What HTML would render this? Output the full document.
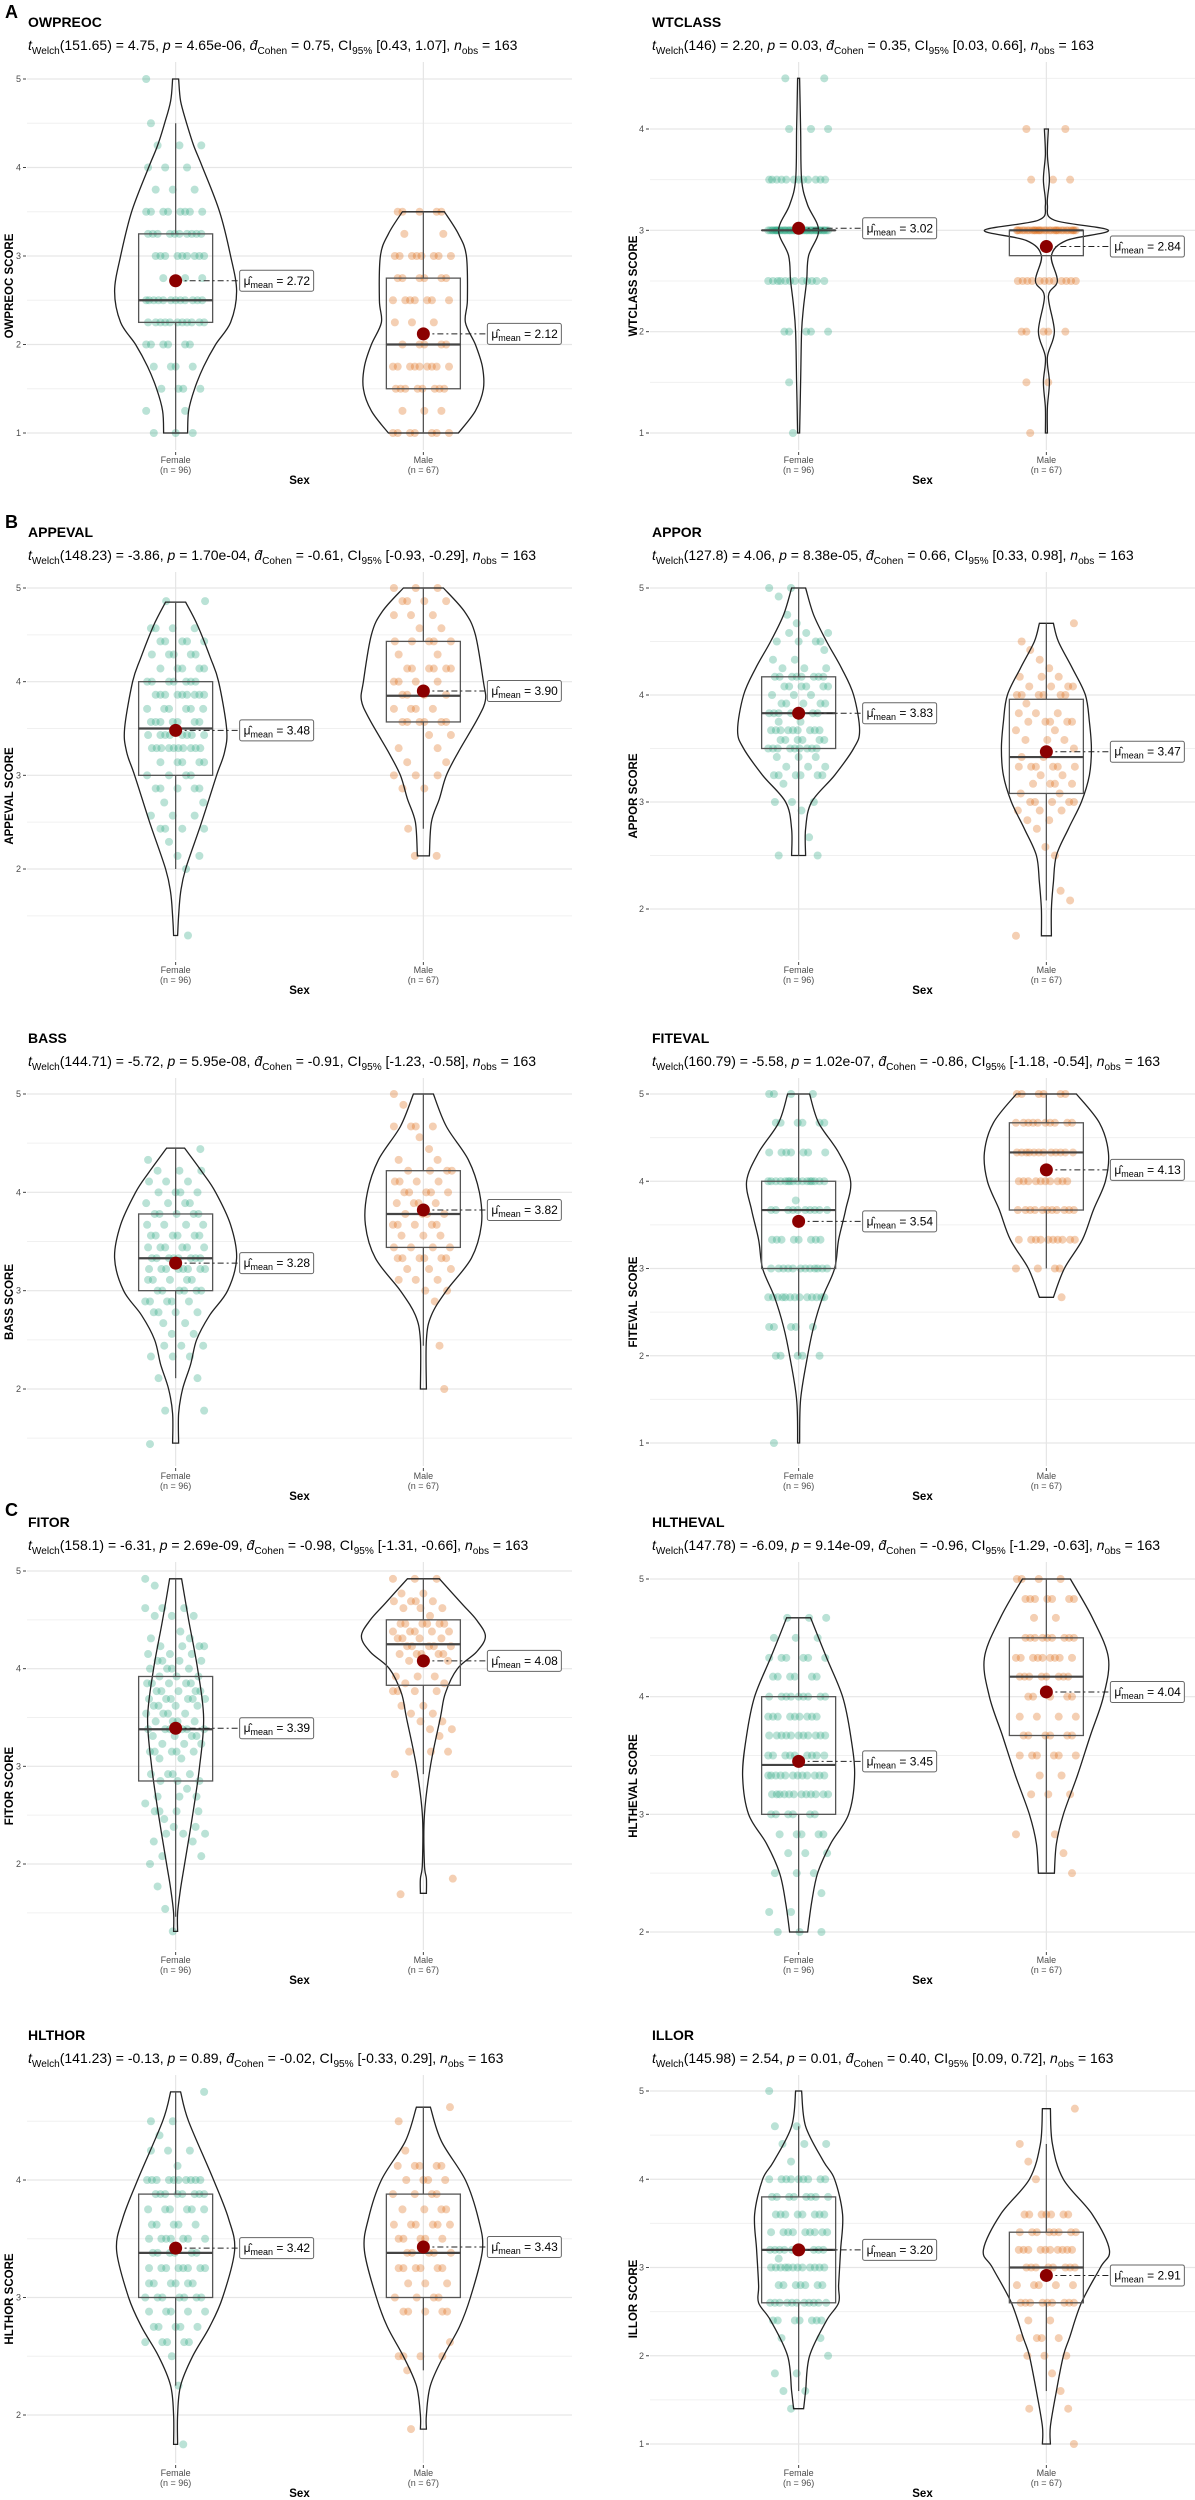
<!DOCTYPE html>
<html><head><meta charset="utf-8"><title>Sex differences violin plots</title>
<style>
html,body{margin:0;padding:0;background:#fff;}
svg{display:block;font-family:"Liberation Sans",Arial,sans-serif;}
</style></head>
<body>
<svg id="fig" width="1195" height="2500" viewBox="0 0 1195 2500" xmlns="http://www.w3.org/2000/svg">
<rect x="0" y="0" width="1195" height="2500" fill="#fff"/>
<text x="5" y="18" font-size="18" font-weight="bold">A</text>
<text x="5" y="528" font-size="18" font-weight="bold">B</text>
<text x="5" y="1516" font-size="18" font-weight="bold">C</text>
</svg>
<script>
// ---- data: chart titles & stats ----
const titles = ["OWPREOC","WTCLASS","APPEVAL","APPOR","BASS","FITEVAL","FITOR","HLTHEVAL","HLTHOR","ILLOR"];
const dfs = ["151.65","146","148.23","127.8","144.71","160.79","158.1","147.78","141.23","145.98"];
const tvals = ["4.75","2.20","-3.86","4.06","-5.72","-5.58","-6.31","-6.09","-0.13","2.54"];
const pvals = ["4.65e-06","0.03","1.70e-04","8.38e-05","5.95e-08","1.02e-07","2.69e-09","9.14e-09","0.89","0.01"];
const dvals = ["0.75","0.35","-0.61","0.66","-0.91","-0.86","-0.98","-0.96","-0.02","0.40"];
const ciLo = ["0.43","0.03","-0.93","0.33","-1.23","-1.18","-1.31","-1.29","-0.33","0.09"];
const ciHi = ["1.07","0.66","-0.29","0.98","-0.58","-0.54","-0.66","-0.63","0.29","0.72"];
const categories = ["Female","Male"];
const groupN = [96,67];
// ---- data: group means ----
const femaleMeans = [2.72,3.02,3.48,3.83,3.28,3.54,3.39,3.45,3.42,3.20];
const maleMeans = [2.12,2.84,3.90,3.47,3.82,4.13,4.08,4.04,3.43,2.91];
// ---- data: box stats [whiskerLo, q1, median, q3, whiskerHi] ----
const femaleBox = [[1,2.25,2.5,3.25,4.5],[3,3,3,3,3],[2,3,3.5,4,4.85],[2.5,3.5,3.83,4.17,5],[2.11,3,3.33,3.78,4.45],[2,3,3.67,4,5],[1.46,2.85,3.38,3.92,4.92],[2,3,3.42,4,4.67],[2.25,3,3.38,3.88,4.75],[1.6,2.6,3.2,3.8,4.6]];
const maleBox = [[1,1.5,2,2.75,3.5],[2.75,2.75,3,3,3],[2.43,3.57,3.85,4.43,5],[2.08,3.08,3.42,3.96,4.67],[2.44,3.44,3.78,4.22,5],[3,3.67,4.33,4.67,5],[2.92,3.83,4.25,4.5,4.92],[2.5,3.67,4.17,4.5,5],[2.38,3,3.38,3.88,4.62],[1.6,2.6,3,3.4,4.4]];
// ---- data: violin density profiles [value, density] ----
const femaleViolin = [
 [[5,3],[4.75,5],[4.5,11],[4.25,18],[4,27],[3.5,44],[3,55],[2.6,61],[2.25,55],[2,40],[1.75,28],[1.5,19],[1.25,13],[1,12]],
 [[4.5,1],[4,2],[3.5,3],[3.25,9],[3,20],[2.75,10],[2.5,8],[2.25,5],[2,3],[1.5,2],[1,1]],
 [[4.85,10],[4.6,22],[4.25,35],[4,43],[3.5,51],[3.25,49],[3,41],[2.5,26],[2,10],[1.75,5],[1.5,3],[1.29,2]],
 [[5,7],[4.75,15],[4.5,28],[4.25,43],[4,55],[3.67,61],[3.5,55],[3.25,36],[3,13],[2.75,7],[2.5,7]],
 [[4.45,9],[4.2,27],[4,40],[3.67,55],[3.33,61],[3,52],[2.75,34],[2.5,21],[2.25,15],[2,7],[1.75,3],[1.45,3]],
 [[5,11],[4.67,20],[4.33,40],[4,52],[3.67,47],[3.33,40],[3,36],[2.67,24],[2.33,15],[2,9],[1.5,2],[1,1]],
 [[4.92,6],[4.5,13],[4,22],[3.5,28],[3,24],[2.5,17],[2,9],[1.75,5],[1.5,2],[1.31,2]],
 [[4.67,12],[4.33,28],[4,44],[3.67,52],[3.33,56],[3,50],[2.75,32],[2.5,19],[2.25,13],[2,9]],
 [[4.75,5],[4.5,13],[4,38],[3.67,53],[3.4,59],[3,47],[2.75,34],[2.5,17],[2.25,5],[2,2],[1.75,2]],
 [[5,3],[4.6,7],[4.2,25],[4,36],[3.6,44],[3.2,42],[2.8,40],[2.6,40],[2.4,28],[2,11],[1.6,7],[1.4,5]]
];
const maleViolin = [
 [[3.5,21],[3.25,35],[3,43],[2.5,44],[2.25,42],[2,52],[1.75,59],[1.5,60],[1.25,52],[1,35]],
 [[4,2],[3.75,1],[3.5,3],[3.25,1],[3.1,8],[3,62],[2.9,20],[2.75,5],[2.5,11],[2.35,2],[2,8],[1.75,1],[1.5,3],[1.25,1],[1,1]],
 [[5,20],[4.75,41],[4.5,52],[4,60],[3.8,62],[3.6,54],[3.25,35],[3,23],[2.75,16],[2.5,8],[2.14,6]],
 [[4.67,7],[4.5,12],[4.25,26],[4,39],[3.75,43],[3.5,45],[3.25,43],[3,35],[2.75,22],[2.5,10],[2.25,7],[2,5],[1.75,5]],
 [[5,10],[4.67,23],[4.33,45],[4,56],[3.67,58],[3.33,48],[3,23],[2.75,8],[2.5,3],[2,3]],
 [[5,30],[4.67,53],[4.33,62],[4,59],[3.67,47],[3.33,36],[3,18],[2.67,7]],
 [[4.92,16],[4.67,38],[4.5,53],[4.33,62],[4.17,53],[4,34],[3.75,22],[3.5,17],[3,7],[2.5,1],[2,1],[1.85,3],[1.7,3]],
 [[5,24],[4.67,46],[4.33,62],[4,57],[3.67,44],[3.33,31],[3,17],[2.75,10],[2.5,8]],
 [[4.62,7],[4.33,18],[4,42],[3.67,55],[3.4,59],[3,47],[2.75,36],[2.5,20],[2.25,7],[2,3],[1.88,3]],
 [[4.8,4],[4.4,6],[4,17],[3.6,46],[3.2,63],[3,54],[2.6,35],[2.2,23],[2,17],[1.6,10],[1.2,4],[1,4]]
];
// ---- data: observations as [value, count] ----
const femalePoints = [
 [[5,1],[4.5,1],[4.25,3],[4,3],[3.75,3],[3.5,8],[3.25,10],[3,9],[2.75,3],[2.5,12],[2.25,11],[2,6],[1.75,4],[1.5,4],[1.25,2],[1,3]],
 [[4.5,2],[4,3],[3.5,12],[3,40],[2.5,12],[2,5],[1.5,1],[1,1]],
 [[4.86,2],[4.57,4],[4.43,5],[4.29,5],[4.14,5],[4,7],[3.86,9],[3.71,6],[3.57,7],[3.43,8],[3.29,10],[3.14,5],[3,4],[2.86,5],[2.71,2],[2.57,3],[2.43,4],[2.29,1],[2.14,2],[2,1],[1.29,1]],
 [[5,2],[4.92,1],[4.75,1],[4.67,1],[4.58,3],[4.5,4],[4.42,1],[4.33,2],[4.25,3],[4.17,8],[4.08,6],[4,3],[3.92,5],[3.83,7],[3.75,2],[3.67,9],[3.58,6],[3.5,9],[3.42,3],[3.33,3],[3.25,6],[3.17,1],[3,3],[2.92,1],[2.67,1],[2.5,2]],
 [[4.44,1],[4.33,1],[4.22,3],[4.11,3],[4,4],[3.89,4],[3.78,5],[3.67,4],[3.56,6],[3.44,6],[3.33,8],[3.22,8],[3.11,5],[3,6],[2.89,5],[2.78,4],[2.67,2],[2.56,2],[2.44,3],[2.33,3],[2.11,2],[1.78,2],[1.44,1]],
 [[5,4],[4.67,6],[4.33,7],[4,16],[3.78,1],[3.67,10],[3.33,8],[3,12],[2.67,13],[2.33,5],[2,5],[1,1]],
 [[4.92,1],[4.85,1],[4.62,3],[4.54,3],[4.38,1],[4.31,2],[4.23,4],[4.15,3],[4.08,4],[4,4],[3.92,3],[3.85,5],[3.77,5],[3.69,6],[3.62,4],[3.54,4],[3.46,4],[3.38,6],[3.31,4],[3.23,3],[3.15,5],[3.08,2],[2.92,4],[2.85,3],[2.77,1],[2.69,3],[2.62,1],[2.54,4],[2.46,1],[2.38,2],[2.31,3],[2.23,2],[2.08,2],[2,1],[1.77,1],[1.54,1],[1.31,1]],
 [[4.67,3],[4.5,3],[4.33,6],[4.17,6],[4,9],[3.83,9],[3.67,11],[3.5,9],[3.33,12],[3.17,12],[3,6],[2.83,5],[2.67,3],[2.5,3],[2.33,1],[2.17,2],[2,3]],
 [[4.75,1],[4.5,2],[4.38,1],[4.25,3],[4.12,1],[4,10],[3.88,8],[3.75,6],[3.62,5],[3.5,7],[3.38,6],[3.25,8],[3.12,6],[3,7],[2.88,5],[2.75,5],[2.62,5],[2.5,1],[2.25,1],[1.75,1]],
 [[5,1],[4.6,2],[4.4,3],[4.2,1],[4,9],[3.8,8],[3.6,8],[3.4,9],[3.2,10],[3.1,1],[3,12],[2.8,7],[2.6,11],[2.4,7],[2.2,2],[2,1],[1.8,2],[1.6,2],[1.4,1]]
];
const malePoints = [
 [[3.5,5],[3.25,2],[3,8],[2.75,6],[2.5,7],[2.25,3],[2,5],[1.75,9],[1.5,8],[1.25,3],[1,7]],
 [[4,2],[3.5,3],[3,30],[2.5,12],[2,5],[1.5,2],[1,1]],
 [[5,3],[4.86,4],[4.71,3],[4.57,2],[4.43,5],[4.29,2],[4.14,6],[4,4],[3.86,4],[3.71,4],[3.57,6],[3.43,2],[3.29,2],[3.14,2],[3,3],[2.86,2],[2.43,1],[2.14,2]],
 [[4.67,1],[4.5,1],[4.42,1],[4.33,1],[4.25,1],[4.17,3],[4.08,4],[4,6],[3.92,1],[3.83,3],[3.75,5],[3.67,2],[3.58,3],[3.5,1],[3.42,2],[3.33,6],[3.25,2],[3.17,4],[3.08,2],[3,5],[2.92,3],[2.83,2],[2.75,1],[2.58,1],[2.5,1],[2.17,1],[2.08,1],[1.75,1]],
 [[5,1],[4.89,1],[4.67,4],[4.56,1],[4.44,1],[4.33,2],[4.22,4],[4.11,4],[4,5],[3.89,4],[3.78,4],[3.67,5],[3.56,3],[3.44,4],[3.33,6],[3.22,3],[3.11,3],[3,2],[2.89,1],[2.44,1],[2,1]],
 [[5,6],[4.67,10],[4.33,12],[4,10],[3.67,11],[3.33,10],[3,4],[2.67,1]],
 [[4.92,3],[4.77,2],[4.69,4],[4.62,3],[4.54,1],[4.46,6],[4.38,5],[4.31,4],[4.23,5],[4.15,5],[4.08,3],[3.92,3],[3.85,2],[3.77,4],[3.62,2],[3.54,2],[3.46,2],[3.38,2],[3.31,1],[3.15,3],[2.92,1],[1.85,1],[1.69,1]],
 [[5,4],[4.83,7],[4.67,2],[4.5,9],[4.33,9],[4.17,8],[4,5],[3.83,4],[3.67,6],[3.5,6],[3.33,2],[3.17,3],[2.83,2],[2.67,1],[2.5,1]],
 [[4.62,1],[4.5,1],[4.25,1],[4.12,5],[4,4],[3.88,4],[3.75,4],[3.62,6],[3.5,5],[3.38,5],[3.25,6],[3.12,3],[3,4],[2.88,5],[2.62,1],[2.5,4],[2.38,1],[1.88,1]],
 [[4.8,1],[4.4,1],[4.2,1],[4,1],[3.6,7],[3.4,8],[3.2,10],[3,8],[2.8,5],[2.6,9],[2.4,2],[2.2,4],[2,3],[1.8,1],[1.6,1],[1.4,2],[1,1]]
];
// ---- axis ticks per panel ----
const majorTicks = [[1,2,3,4,5],[1,2,3,4],[2,3,4,5],[2,3,4,5],[2,3,4,5],[1,2,3,4,5],[2,3,4,5],[2,3,4,5],[2,3,4],[1,2,3,4,5]];
const minorTicks = [[1.5,2.5,3.5,4.5],[1.5,2.5,3.5,4.5],[1.5,2.5,3.5,4.5],[2.5,3.5,4.5],[1.5,2.5,3.5,4.5],[1.5,2.5,3.5,4.5],[1.5,2.5,3.5,4.5],[2.5,3.5,4.5],[2.5,3.5,4.5],[1.5,2.5,3.5,4.5]];

// ---- layout (not data) ----
const layout = [
 {col:0,top:0,   yA:5,pA:79,  yB:1,pB:433},
 {col:1,top:0,   yA:4,pA:129, yB:1,pB:433},
 {col:0,top:510, yA:5,pA:588, yB:2,pB:869},
 {col:1,top:510, yA:5,pA:588, yB:2,pB:909},
 {col:0,top:1016,yA:5,pA:1094,yB:2,pB:1389},
 {col:1,top:1016,yA:5,pA:1094,yB:1,pB:1443},
 {col:0,top:1500,yA:5,pA:1571,yB:2,pB:1864},
 {col:1,top:1500,yA:5,pA:1579,yB:2,pB:1932},
 {col:0,top:2013,yA:4,pA:2180,yB:2,pB:2415},
 {col:1,top:2013,yA:5,pA:2091,yB:1,pB:2444}
];
const svg = document.getElementById('fig');
const NS = "http://www.w3.org/2000/svg";
const FILL = ["#1B9E77","#D95F02"];
function mk(tag, attrs, parent){
  const e = document.createElementNS(NS, tag);
  for (const k in attrs) e.setAttribute(k, attrs[k]);
  (parent||svg).appendChild(e);
  return e;
}
function catmull(pts){
  let d = "";
  for (let i=0;i<pts.length-1;i++){
    const p0 = pts[Math.max(0,i-1)], p1 = pts[i], p2 = pts[i+1], p3 = pts[Math.min(pts.length-1,i+2)];
    const c1x = p1[0]+(p2[0]-p0[0])/6, c1y = p1[1]+(p2[1]-p0[1])/6;
    const c2x = p2[0]-(p3[0]-p1[0])/6, c2y = p2[1]-(p3[1]-p1[1])/6;
    d += ` C${c1x.toFixed(1)},${c1y.toFixed(1)} ${c2x.toFixed(1)},${c2y.toFixed(1)} ${p2[0].toFixed(1)},${p2[1].toFixed(1)}`;
  }
  return d;
}
function addSub(t, str){
  const s = mk('tspan', {'font-size':'0.72em', dy:'4'}, t); s.textContent = str;
  const r = mk('tspan', {dy:'-4'}, t); return r;
}

layout.forEach((L, i) => {
  const g = mk('g', {});
  
  
  const x0 = L.col === 0 ? 27 : 650;
  const x1 = L.col === 0 ? 572 : 1195;
  const w = x1 - x0;
  const xs = [x0 + w*0.6/2.2, x0 + w*1.6/2.2];
  const scale = (L.pB - L.pA) / (L.yA - L.yB);
  const y = v => L.pA + (L.yA - v) * scale;
  const plotTop = L.top + 62, plotBot = L.top + 450;
  const tx = L.col === 0 ? 28 : 652;

  const tt = mk('text', {x:tx, y:L.top+27, 'font-size':'14', 'font-weight':'bold', fill:'#000'}, g);
  
  
  tt.textContent = titles[i];
  const st = mk('text', {x:tx, y:L.top+50, 'font-size':'14', fill:'#000'}, g);
  
  
  let a = mk('tspan', {'font-style':'italic'}, st); a.textContent = 't';
  let r = addSub(st, 'Welch'); r.textContent = '(' + dfs[i] + ') = ' + tvals[i] + ', ';
  a = mk('tspan', {'font-style':'italic'}, st); a.textContent = 'p';
  a = mk('tspan', {}, st); a.textContent = ' = ' + pvals[i] + ', ';
  a = mk('tspan', {'font-style':'italic'}, st); a.textContent = 'd\u0302';
  r = addSub(st, 'Cohen'); r.textContent = ' = ' + dvals[i] + ', CI';
  r = addSub(st, '95%'); r.textContent = ' [' + ciLo[i] + ', ' + ciHi[i] + '], ';
  a = mk('tspan', {'font-style':'italic'}, st); a.textContent = 'n';
  r = addSub(st, 'obs'); r.textContent = ' = 163';

  minorTicks[i].forEach(v => {
    const l = mk('line', {x1:x0, x2:x1, y1:y(v), y2:y(v), stroke:'#f0f0f0', 'stroke-width':'1'}, g);
    
    
  });
  majorTicks[i].forEach(v => {
    const l = mk('line', {x1:x0, x2:x1, y1:y(v), y2:y(v), stroke:'#e6e6e6', 'stroke-width':'1.2'}, g);
    
    
    mk('line', {x1:x0-4, x2:x0-1, y1:y(v), y2:y(v), stroke:'#444', 'stroke-width':'1'}, g);
    const lb = mk('text', {x:x0-6, y:y(v)+3, 'font-size':'9', fill:'#4d4d4d', 'text-anchor':'end'}, g);
    
    
    lb.textContent = v;
  });
  xs.forEach(cx => {
    mk('line', {x1:cx, x2:cx, y1:plotTop, y2:plotBot, stroke:'#e6e6e6', 'stroke-width':'1.2'}, g);
    mk('line', {x1:cx, x2:cx, y1:plotBot+2, y2:plotBot+5, stroke:'#444', 'stroke-width':'1'}, g);
  });
  const ay = (plotTop + plotBot)/2 + 30;
  const axx = L.col === 0 ? 13 : 637;
  const yt = mk('text', {x:axx, y:ay, 'font-size':'11.5', 'font-weight':'bold', 'text-anchor':'middle', transform:`rotate(-90 ${axx} ${ay})`}, g);
  
  
  yt.textContent = titles[i] + ' SCORE';
  categories.forEach((c, k) => {
    const t1 = mk('text', {x:xs[k], y:L.top+463, 'font-size':'9', fill:'#4d4d4d', 'text-anchor':'middle'}, g);
    
    
    t1.textContent = c;
    const t2 = mk('text', {x:xs[k], y:L.top+473, 'font-size':'9', fill:'#4d4d4d', 'text-anchor':'middle'}, g);
    t2.textContent = '(n = ' + groupN[k] + ')';
  });
  const xt = mk('text', {x:(x0+x1)/2, y:L.top+484, 'font-size':'11.5', 'font-weight':'bold', 'text-anchor':'middle'}, g);
  
  
  xt.textContent = 'Sex';

  const groups = [
    {pts:femalePoints[i], vio:femaleViolin[i], box:femaleBox[i], mean:femaleMeans[i]},
    {pts:malePoints[i], vio:maleViolin[i], box:maleBox[i], mean:maleMeans[i]}
  ];
  groups.forEach((G, k) => {
    const cx = xs[k];
    const key = categories[k].toLowerCase();
    G.pts.forEach(([v, n], j) => {
      for (let q=0; q<n; q++){
        const off = (((q*23 + j*11 + Math.round(v*13)) % 64) - 32) * 0.95;
        const c = mk('circle', {cx:cx+off, cy:y(v), r:'4', fill:FILL[k], 'fill-opacity':'0.3'}, g);
        
        
      }
    });
    const prof = G.vio;
    const right = prof.map(([v, d]) => [cx + d, y(v)]);
    const left = prof.slice().reverse().map(([v, d]) => [cx - d, y(v)]);
    let d = `M${(cx - prof[0][1]).toFixed(1)},${y(prof[0][0]).toFixed(1)} L${right[0][0].toFixed(1)},${right[0][1].toFixed(1)}`;
    d += catmull(right);
    d += ` L${left[0][0].toFixed(1)},${left[0][1].toFixed(1)}`;
    d += catmull(left) + ' Z';
    const vp = mk('path', {d:d, fill:'none', stroke:'#222', 'stroke-width':'1.3'}, g);
    
    
    const [wl, q1, md, q3, wh] = G.box;
    const bw = 37;
    mk('line', {x1:cx, x2:cx, y1:y(wh), y2:y(q3), stroke:'#555', 'stroke-width':'1.3'}, g);
    mk('line', {x1:cx, x2:cx, y1:y(q1), y2:y(wl), stroke:'#555', 'stroke-width':'1.3'}, g);
    const bx = mk('rect', {x:cx-bw, y:y(q3), width:bw*2, height:Math.max(0.01, y(q1)-y(q3)), fill:'none', stroke:'#555', 'stroke-width':'1.3'}, g);
    
    
    const ml = mk('line', {x1:cx-bw, x2:cx+bw, y1:y(md), y2:y(md), stroke:'#444', 'stroke-width':'2.2'}, g);
    
    
    const my = y(G.mean);
    const lx = cx + 64;
    mk('line', {x1:cx, x2:lx, y1:my, y2:my, stroke:'#222', 'stroke-width':'1', 'stroke-dasharray':'6,3,2,3'}, g);
    const mp = mk('circle', {cx:cx, cy:my, r:'6.5', fill:'#8B0000'}, g);
    
    
    const lab = mk('g', {}, g);
    
    
    mk('rect', {x:lx, y:my-10.5, width:74, height:21, rx:2, fill:'#fff', stroke:'#666', 'stroke-width':'1'}, lab);
    const lt = mk('text', {x:lx+4, y:my+4, 'font-size':'12', fill:'#000'}, lab);
    const m1 = mk('tspan', {}, lt); m1.textContent = '\u03BC\u0302';
    const m2 = mk('tspan', {'font-size':'9', dy:'3'}, lt); m2.textContent = 'mean';
    const m3 = mk('tspan', {dy:'-3'}, lt); m3.textContent = ' = ' + G.mean.toFixed(2);
  });
});
</script>
</body></html>
